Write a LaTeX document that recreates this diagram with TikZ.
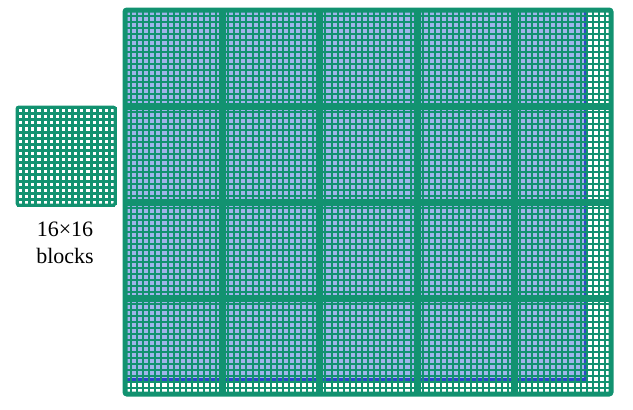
\documentclass[tikz,border=0pt]{standalone}
\usepackage{fontspec}
\setmainfont{Liberation Serif}
\definecolor{gr}{RGB}{18,146,112}
\definecolor{lb}{RGB}{160,180,235}
\definecolor{db}{RGB}{45,70,200}
\tikzset{
  fine/.style={draw=gr,line width=1.6pt},
  thick block/.style={draw=gr,line width=7pt},
  frame/.style={draw=gr,line width=5pt,rounded corners=2pt},
  lbl/.style={font=\fontsize{22}{27}\selectfont,align=center,inner sep=0pt}
}
\begin{document}
\begin{tikzpicture}[x=1pt,y=-1pt]
\useasboundingbox (0,0) rectangle (633,410);
% small block
\fill[white] (17,107) rectangle (115,205);
\foreach \i in {0,...,16}{
  \draw[fine,line width=3pt] ({round(17+\i*6.125)+0.5},107) -- ({round(17+\i*6.125)+0.5},205);
  \draw[fine,line width=3pt] (17,{round(107+\i*6.125)+0.5}) -- (115,{round(107+\i*6.125)+0.5});
}
\draw[frame,line width=3pt] (17,107) rectangle (115,205);
\node[lbl] (cap) at (65,243) {16×16\\blocks};
% main frame
\fill[white] (125,10) rectangle (611,394);
\fill[lb] (125,10) rectangle (585,379);
\draw[db,line width=3pt] (125,379) -- (585,379) -- (585,10);
\foreach \i in {0,...,80}{
  \draw[fine] ({round(125+\i*6.075)},10) -- ({round(125+\i*6.075)},394);
}
\foreach \j in {0,...,64}{
  \draw[fine] (125,{10+\j*6}) -- (611,{10+\j*6});
}
\foreach \i in {1,...,4}{
  \draw[thick block] ({round(125+\i*97.2)+0.5},10) -- ({round(125+\i*97.2)+0.5},394);
}
\foreach \j in {1,...,3}{
  \draw[thick block] (125,{10+\j*96+0.5}) -- (611,{10+\j*96+0.5});
}
\draw[frame] (125,10) rectangle (611,394);
\end{tikzpicture}
\end{document}
